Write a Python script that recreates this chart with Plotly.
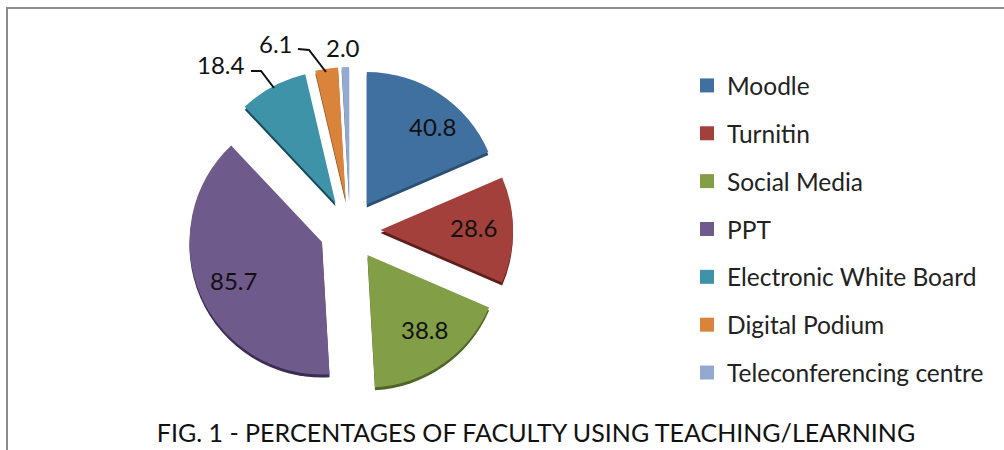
import plotly.graph_objects as go

categories = ["Moodle", "Turnitin", "Social Media", "PPT",
              "Electronic White Board", "Digital Podium", "Teleconferencing centre"]
values = [40.8, 28.6, 38.8, 85.7, 18.4, 6.1, 2.0]
colors = ["#40709f", "#a3403c", "#829f47", "#6f5a8c", "#3f93a9", "#d9843a", "#93a9cf"]
dark = ["#2b4f73", "#5c1f1c", "#4f6428", "#3a2d52", "#174c5c", "#8a5020", "#5a6c90"]
title_text = "FIG. 1 - PERCENTAGES OF FACULTY USING TEACHING/LEARNING"

W, H = 1004, 450
FONT = "Lato"
PULL = 0.23
# pixel anchors of the value labels, same order as categories
label_xy = [(432, 127), (473, 227), (424, 329), (233, 280), (221, 64), (276, 43), (343, 47)]
leaders = ["M251,71 L261,71 L274,88", "M298,49 L309,50 L326,72"]


def dom(x0, x1, y0, y1):
    return dict(x=[x0 / W, x1 / W], y=[1 - y1 / H, 1 - y0 / H])


def px(x, y):
    return x / W, 1 - y / H


def to_paper(path):
    out = []
    for tok in path.split():
        cmd, rest = tok[0], tok[1:]
        x, y = rest.split(",")
        fx, fy = px(float(x), float(y))
        out.append(f"{cmd}{fx:.5f},{fy:.5f}")
    return " ".join(out)


fig = go.Figure()
# darker copy underneath gives the extruded edge
fig.add_trace(go.Pie(values=values, labels=categories, sort=False, direction="clockwise",
                     rotation=0, pull=PULL, domain=dom(187, 513, 70, 396),
                     marker=dict(colors=dark, line=dict(width=0)),
                     textinfo="none", hoverinfo="skip", showlegend=False))
fig.add_trace(go.Pie(values=values, labels=categories, sort=False, direction="clockwise",
                     rotation=0, pull=PULL, domain=dom(187, 513, 67, 393),
                     marker=dict(colors=colors, line=dict(width=0)),
                     textinfo="none", showlegend=False))
# legend entries
for c, col in zip(categories, colors):
    fig.add_trace(go.Scatter(x=[None], y=[None], name=c, mode="markers",
                             legendgroup=c,
                             marker=dict(symbol="square", size=14, color=col)))

annotations = []
for v, (lx, ly) in zip(values, label_xy):
    ax, ay = px(lx, ly)
    annotations.append(dict(text=f"{v:.1f}", x=ax, y=ay, xref="paper", yref="paper",
                            xanchor="center", yanchor="middle", showarrow=False,
                            font=dict(family=FONT, size=24, color="#111111")))

shapes = [dict(type="line", xref="paper", yref="paper",
               x0=7 / W, x1=7 / W, y0=0, y1=1 - 8 / H, line=dict(color="#8c8c8c", width=2)),
          dict(type="line", xref="paper", yref="paper",
               x0=6 / W, x1=1, y0=1 - 8 / H, y1=1 - 8 / H, line=dict(color="#8c8c8c", width=2))]
for p in leaders:
    shapes.append(dict(type="path", xref="paper", yref="paper", path=to_paper(p),
                       line=dict(color="#111111", width=2)))

fig.update_layout(
    width=W, height=H, margin=dict(l=0, r=0, t=0, b=0, autoexpand=False),
    paper_bgcolor="white", plot_bgcolor="white",
    xaxis=dict(visible=False), yaxis=dict(visible=False),
    title=dict(text=title_text, font=dict(family=FONT, size=25, color="#111111"),
               x=536 / W, xanchor="center", y=1 - 433 / H, yanchor="middle"),
    legend=dict(x=687 / W, xanchor="left", y=1 - 63 / H, yanchor="top",
                font=dict(family=FONT, size=24.5, color="#222222"),
                tracegroupgap=13, bgcolor="rgba(0,0,0,0)"),
    annotations=annotations,
    shapes=shapes,
)
fig.write_html("out.html", config=dict(displayModeBar=False),
               post_script="document.body.style.margin='0';")
